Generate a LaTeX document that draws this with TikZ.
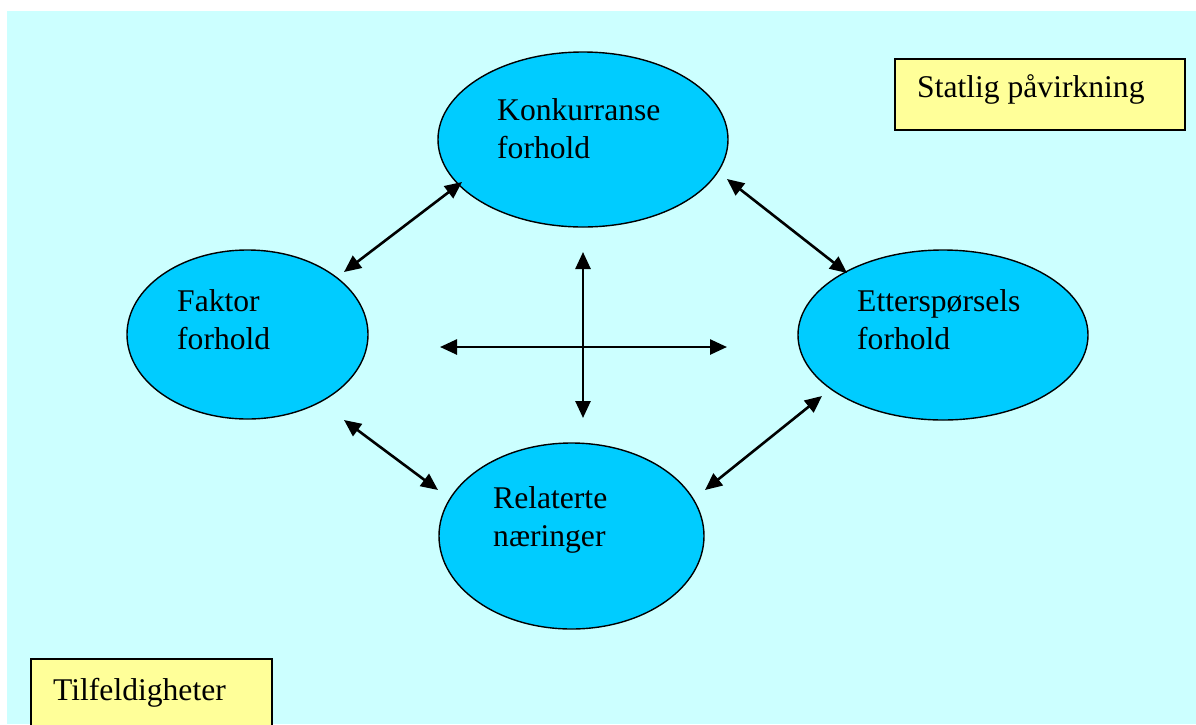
\documentclass[tikz,border=0pt]{standalone}
\usepackage{fontspec}
\setmainfont{Liberation Serif}
\usetikzlibrary{arrows.meta,shapes.geometric}
\definecolor{paper}{HTML}{CCFFFF}
\definecolor{blob}{HTML}{00CCFF}
\definecolor{note}{HTML}{FFFF99}
\begin{document}
\begin{tikzpicture}[x=1pt,y=-1pt,
  blobnode/.style={ellipse,draw=black,line width=1.4pt,fill=blob,inner sep=0pt,outer sep=0pt},
  txt/.style={anchor=base west,inner sep=0pt,align=left,font=\fontsize{31.6}{37.5}\selectfont},
  notebox/.style={draw=black,line width=2pt,fill=note,inner sep=0pt,outer sep=0pt,anchor=north west},
  link/.style={line width=2.6pt,{Triangle[length=17pt,width=15pt]}-{Triangle[length=17pt,width=15pt]}}
]
\useasboundingbox (0,0) rectangle (1196,724);
\clip (0,0) rectangle (1196,724);
% page and tinted panel
\fill[white] (0,0) rectangle (1196,724);
\fill[paper] (7,11) rectangle (1196,724);

% the four factors
\node[blobnode,minimum width=290pt,minimum height=175pt] (konk) at (583,139.5) {};
\node[blobnode,minimum width=241pt,minimum height=169pt] (faktor) at (247.5,334.5) {};
\node[blobnode,minimum width=290pt,minimum height=170pt] (etter) at (943,335) {};
\node[blobnode,minimum width=265pt,minimum height=186pt] (rel) at (571.5,536) {};

% multi-line labels are anchored on the baseline of their last line
\node[txt] (konktxt) at (497,158) {Konkurranse\\forhold};
\node[txt] (faktortxt) at (177,349) {Faktor\\forhold};
\node[txt] (ettertxt) at (857,349) {Etterspørsels\\forhold};
\node[txt] (reltxt) at (493,546) {Relaterte\\næringer};

% outside influences
\node[notebox,minimum width=290pt,minimum height=71pt] (statlig) at (895,59) {};
\node[txt] (statligtxt) at (917,97) {Statlig påvirkning};
\node[notebox,minimum width=241pt,minimum height=80pt] (tilf) at (31,659) {};
\node[txt] (tilftxt) at (53,700) {Tilfeldigheter};

% arrow ends
\coordinate (kf1) at (462,182);
\coordinate (kf2) at (344,272);
\coordinate (ke1) at (727,179);
\coordinate (ke2) at (847,273);
\coordinate (fr1) at (344,420);
\coordinate (fr2) at (438,490);
\coordinate (er1) at (822,396);
\coordinate (er2) at (705,490);
\coordinate (vtop) at (583,252);
\coordinate (vbot) at (583,418);
\coordinate (hleft) at (440,347);
\coordinate (hright) at (727,347);

\draw[link] (kf1) -- (kf2);
\draw[link] (ke1) -- (ke2);
\draw[link] (fr1) -- (fr2);
\draw[link] (er1) -- (er2);
\draw[link] (vtop) -- (vbot);
\draw[link] (hleft) -- (hright);
\end{tikzpicture}
\end{document}
